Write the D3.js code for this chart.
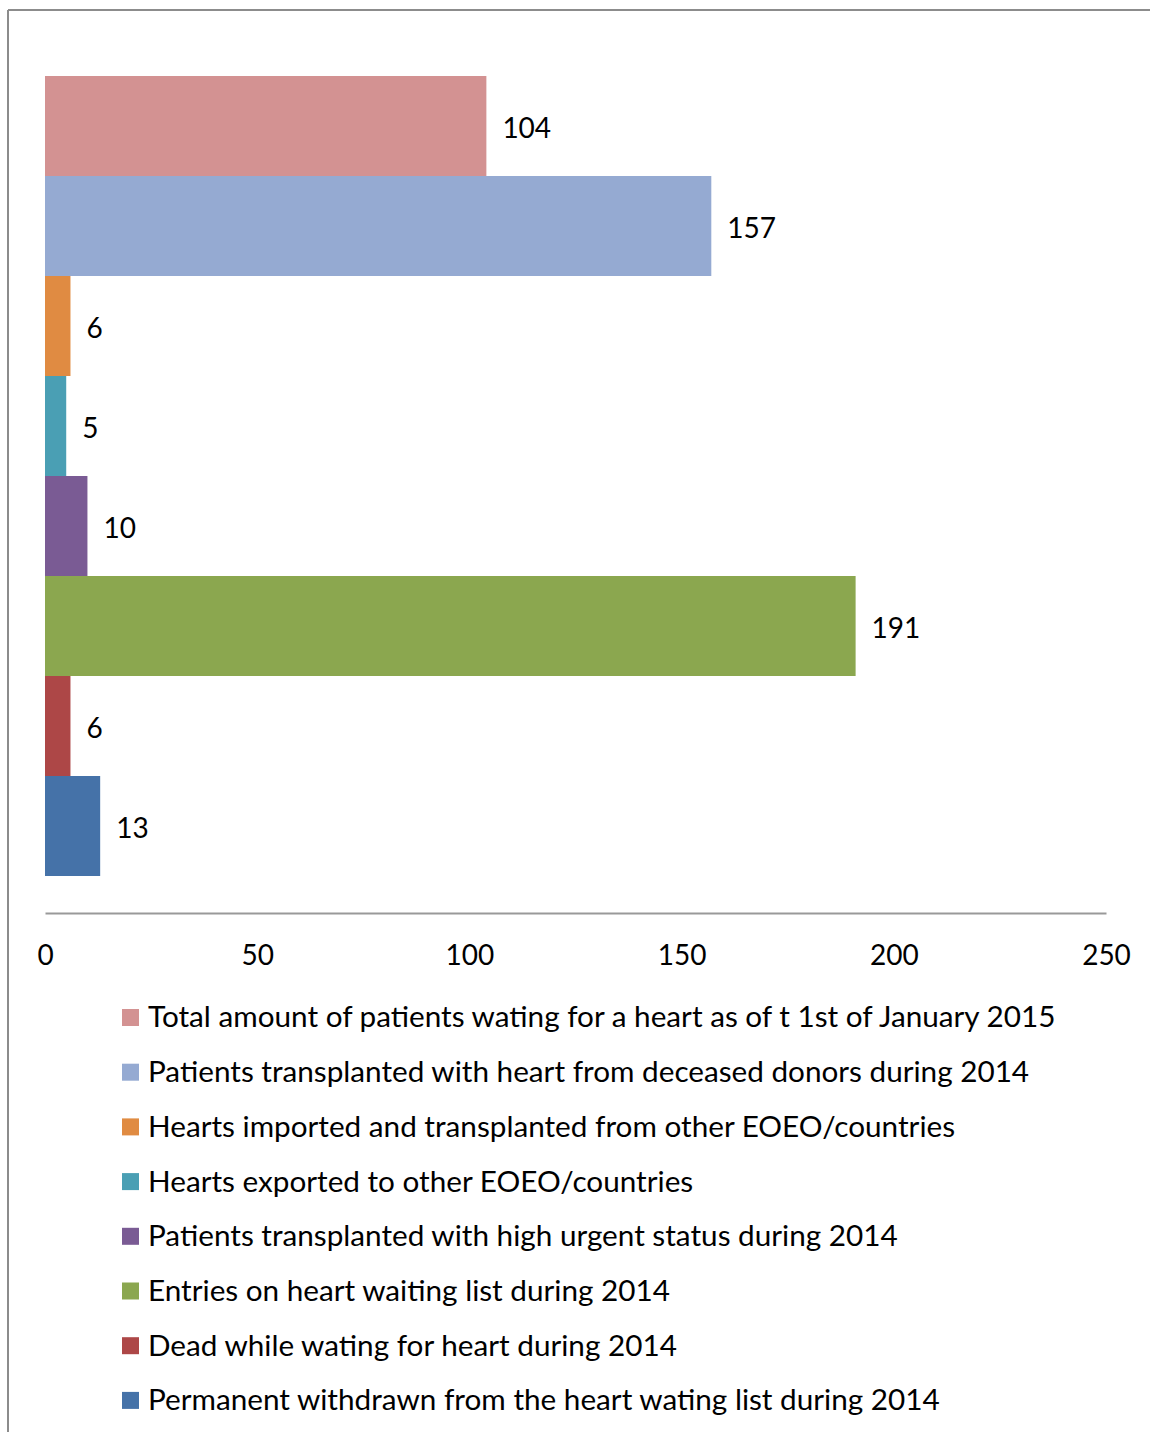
<!DOCTYPE html>
<html>
<head>
<meta charset="utf-8">
<script src="https://cdn.jsdelivr.net/npm/d3@7"></script>
<style>
  body { margin: 0; background: #fff; }
  text { font-family: Lato, "Open Sans", sans-serif; fill: #000; }
</style>
</head>
<body>
<div id="chart"></div>
<script>
var categories = [
  "Total amount of patients wating for a heart as of t 1st of January 2015",
  "Patients transplanted with heart from deceased donors during 2014",
  "Hearts imported and transplanted from other EOEO/countries",
  "Hearts exported to other EOEO/countries",
  "Patients transplanted with high urgent status during 2014",
  "Entries on heart waiting list during 2014",
  "Dead while wating for heart during 2014",
  "Permanent withdrawn from the heart wating list during 2014"
];
var values = [104, 157, 6, 5, 10, 191, 6, 13];
var colors = ["#d39292", "#95aad2", "#e08b42", "#4a9fb4", "#7a5b94", "#8ba74f", "#ad4747", "#4572a8"];
var xTicks = [0, 50, 100, 150, 200, 250];

var W = 1150, H = 1432;
var svg = d3.select("#chart").append("svg")
    .attr("width", W)
    .attr("height", H);

// outer frame (top and left edges visible)
svg.append("line").attr("x1", 8).attr("x2", W).attr("y1", 10).attr("y2", 10)
    .attr("stroke", "#8c8c8c").attr("stroke-width", 2);
svg.append("line").attr("x1", 8).attr("x2", 8).attr("y1", 10).attr("y2", H)
    .attr("stroke", "#8c8c8c").attr("stroke-width", 2);

var x = d3.scaleLinear().domain([0, 250]).range([45, 1106]);
var y = d3.scaleBand().domain(categories).range([76, 876]).padding(0);

svg.selectAll("rect.bar")
    .data(values)
    .enter().append("rect")
    .attr("class", "bar")
    .attr("x", x(0))
    .attr("y", function(d, i) { return y(categories[i]); })
    .attr("width", function(d) { return x(d) - x(0); })
    .attr("height", y.bandwidth())
    .attr("fill", function(d, i) { return colors[i]; });

svg.selectAll("text.val")
    .data(values)
    .enter().append("text")
    .attr("class", "val")
    .attr("x", function(d) { return x(d) + 16; })
    .attr("y", function(d, i) { return y(categories[i]) + y.bandwidth() / 2 + 2; })
    .attr("dy", "0.35em")
    .attr("font-size", 28)
    .text(function(d) { return d; });

// x axis
var axis = svg.append("g")
    .attr("transform", "translate(0,913)")
    .call(d3.axisBottom(x).tickValues(xTicks).tickSize(0).tickPadding(32));
axis.select(".domain").attr("stroke", "#999").attr("stroke-width", 2);
axis.selectAll("text").attr("font-size", 28).attr("font-family", "Lato, 'Open Sans', sans-serif").attr("fill", "#000");

// legend
var leg = svg.selectAll("g.leg")
    .data(categories)
    .enter().append("g")
    .attr("class", "leg")
    .attr("transform", function(d, i) { return "translate(122," + (1017 + i * 54.7) + ")"; });
leg.append("rect")
    .attr("x", 0).attr("y", -8)
    .attr("width", 17).attr("height", 17)
    .attr("fill", function(d, i) { return colors[i]; });
leg.append("text")
    .attr("x", 26)
    .attr("dy", "0.35em")
    .attr("font-size", 29.7)
    .text(function(d) { return d; });
</script>
</body>
</html>
